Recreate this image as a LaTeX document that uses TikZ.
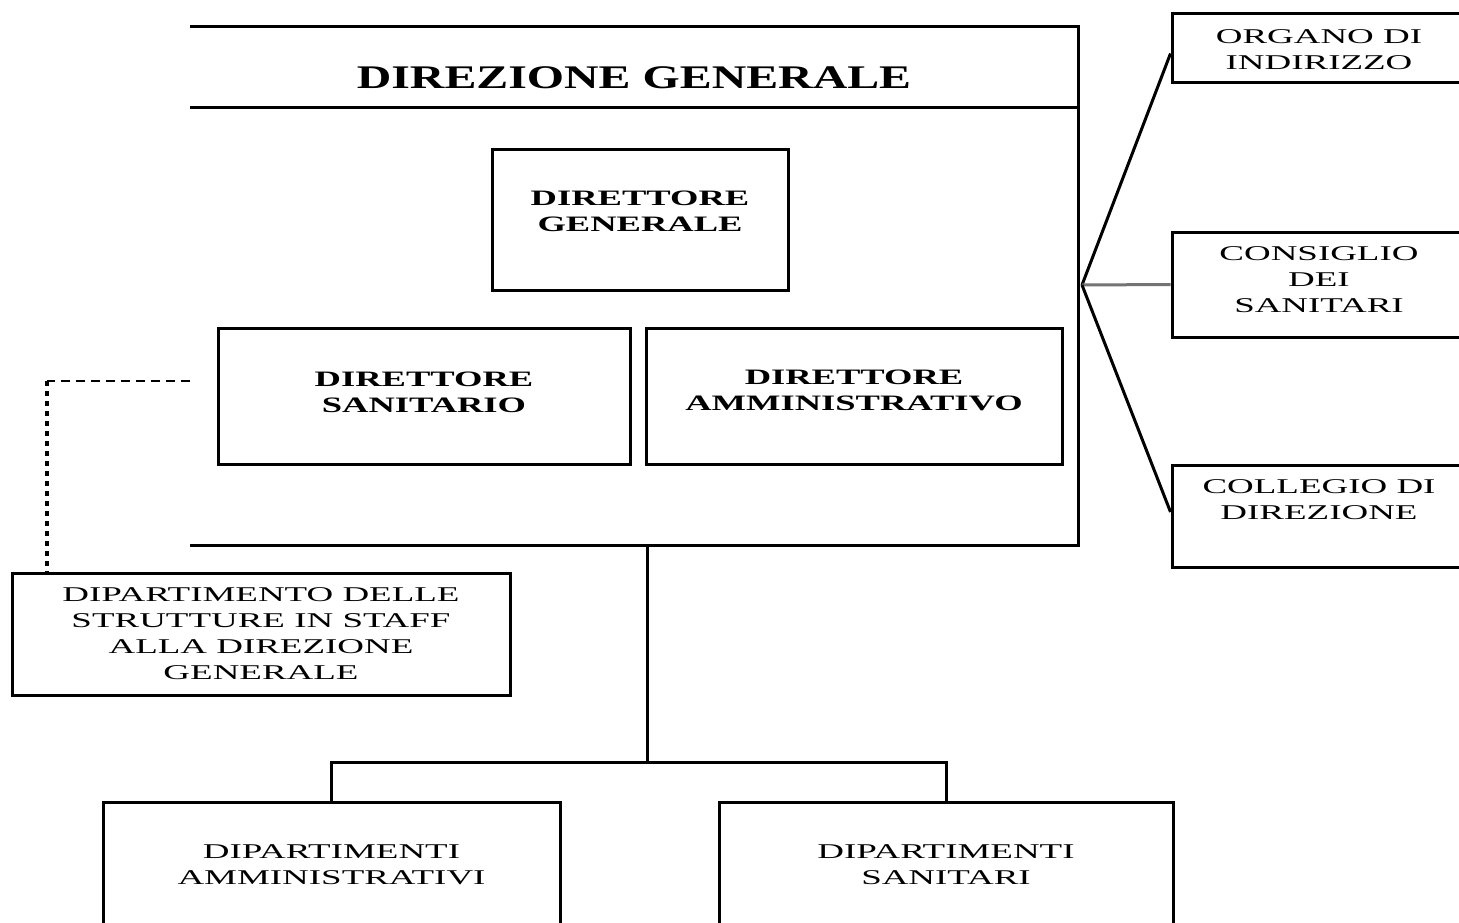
\documentclass[tikz,border=0pt]{standalone}
\usepackage{fontspec}
\setmainfont{Liberation Serif}
\newfontfamily\rgx[FakeStretch=1.76]{Liberation Serif}
\newfontfamily\bfx[FakeStretch=1.66]{Liberation Serif Bold}
\newfontfamily\ttlx[FakeStretch=1.45]{Liberation Serif Bold}
\begin{document}
\begin{tikzpicture}[x=1pt,y=-1pt,
  box/.style={draw=black, line width=3pt, inner sep=0pt},
  conn/.style={draw=black, line width=3pt},
  rtxt/.style={align=center, font=\rgx\fontsize{21}{26}\selectfont, inner sep=0pt},
  btxt/.style={align=center, font=\bfx\fontsize{22}{26}\selectfont, inner sep=0pt},
  hdash/.style={draw=black, line width=2pt, dash pattern=on 9pt off 6pt},
  vdash/.style={draw=black, line width=3.5pt, dash pattern=on 5pt off 5pt}]
\useasboundingbox (0,0) rectangle (1459,923);
\fill[white] (0,0) rectangle (1459,923);

% Direzione generale frame (no left side)
\node[minimum width=888pt, minimum height=518pt, inner sep=0pt] (dgen) at (634,286) {};
\draw[conn] (dgen.north west) -- (dgen.north east) -- (dgen.south east) -- (dgen.south west);
\coordinate (sepL) at (190,108);
\coordinate (sepR) at (1078,108);
\draw[conn] (sepL) -- (sepR);
\node[align=center, font=\ttlx\fontsize{33}{36}\selectfont, inner sep=0pt] (ttl) at (634,78) {DIREZIONE GENERALE};

% inner boxes
\node[box, minimum width=296pt, minimum height=140pt] (dg) at (640,220) {};
\node[btxt] (dgt) at (640,211) {DIRETTORE\\GENERALE};
\node[box, minimum width=412pt, minimum height=136pt] (ds) at (424,396) {};
\node[btxt] (dst) at (424,392) {DIRETTORE\\SANITARIO};
\node[box, minimum width=416pt, minimum height=136pt] (da) at (854,396) {};
\node[btxt] (dat) at (854,390) {DIRETTORE\\AMMINISTRATIVO};

% right boxes (open to the right edge)
\node[box, minimum width=294pt, minimum height=69pt] (org) at (1319,48.5) {};
\node[rtxt] (orgt) at (1319,50) {ORGANO DI\\INDIRIZZO};
\node[box, minimum width=294pt, minimum height=105pt] (cons) at (1319,284.5) {};
\node[rtxt] (const) at (1319,280) {CONSIGLIO\\DEI\\SANITARI};
\node[box, minimum width=294pt, minimum height=102pt] (coll) at (1319,516) {};
\node[rtxt] (collt) at (1319,500) {COLLEGIO DI\\DIREZIONE};

\coordinate (hub) at (1082,285);
\draw[conn] (hub) -- ([yshift=-5pt]org.west);
\draw[draw=black!55, line width=3pt] (hub) -- (cons.west);
\draw[conn] (hub) -- ([yshift=4pt]coll.west);

% staff box with dashed link
\node[box, minimum width=498pt, minimum height=122pt] (staff) at (261,634) {};
\node[rtxt] (stafft) at (261,634) {DIPARTIMENTO DELLE\\STRUTTURE IN STAFF\\ALLA DIREZIONE\\GENERALE};
\coordinate (dl) at (190,381);
\coordinate (dc) at (47,381);
\draw[hdash] (dl) -- (dc);
\draw[vdash] (dc) -- (dc |- staff.north);

% bottom departments (open at the bottom edge)
\node[box, minimum width=457pt, minimum height=198pt] (amm) at (331.5,901) {};
\node[rtxt] (ammt) at (331.5,865) {DIPARTIMENTI\\AMMINISTRATIVI};
\node[box, minimum width=454pt, minimum height=198pt] (san) at (946,901) {};
\node[rtxt] (sant) at (946,865) {DIPARTIMENTI\\SANITARI};

\coordinate (t0) at (647,545);
\coordinate (t1) at (647,762);
\draw[conn] (t0) -- (t1);
\draw[conn] (amm.north) |- (t1) -| (san.north);
\end{tikzpicture}
\end{document}
